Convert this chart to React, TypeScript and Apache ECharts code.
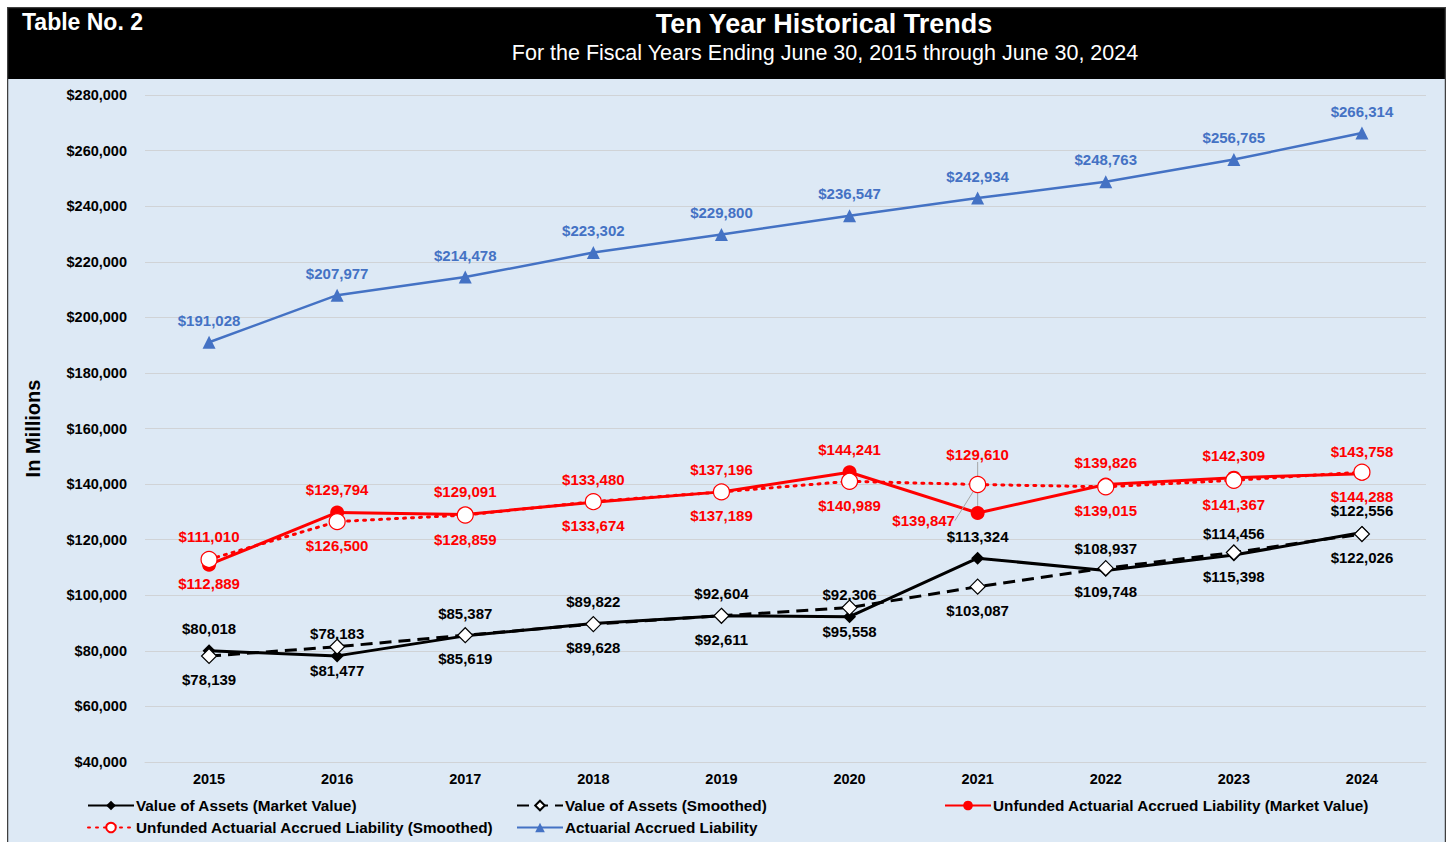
import React, { useEffect, useRef } from "react";
import * as echarts from "echarts";

const years = ["2015", "2016", "2017", "2018", "2019", "2020", "2021", "2022", "2023", "2024"];
const assetsMarket = [80018, 78183, 85387, 89822, 92604, 92306, 113324, 108937, 114456, 122556];
const assetsSmoothed = [78139, 81477, 85619, 89628, 92611, 95558, 103087, 109748, 115398, 122026];
const uaalMarket = [111010, 129794, 129091, 133480, 137196, 144241, 129610, 139826, 142309, 143758];
const uaalSmoothed = [112889, 126500, 128859, 133674, 137189, 140989, 139847, 139015, 141367, 144288];
const aal = [191028, 207977, 214478, 223302, 229800, 236547, 242934, 248763, 256765, 266314];

const names = [
  "Value of Assets (Market Value)",
  "Value of Assets (Smoothed)",
  "Unfunded Actuarial Accrued Liability (Market Value)",
  "Unfunded Actuarial Accrued Liability (Smoothed)",
  "Actuarial Accrued Liability",
];

const FONT = "'Liberation Sans', Arial, sans-serif";
const money = (v: number) => "$" + v.toLocaleString("en-US");

export default function App() {
  const ref = useRef<HTMLDivElement>(null);
  useEffect(() => {
    if (!ref.current) return;
    const chart = echarts.init(ref.current, null, { renderer: "svg" });
    const lbl = (color: string, position: string) => ({
      show: true,
      position,
      distance: 8,
      color,
      fontFamily: FONT,
      fontWeight: "bold",
      fontSize: 15,
      formatter: (p: any) => money(p.value),
    });
    const legendText = { fontFamily: FONT, fontWeight: "bold", fontSize: 15.3, color: "#000" };
    const mkLegend = (name: string, left: number, top: number) => ({
      data: [name],
      left,
      top,
      itemWidth: 46,
      itemHeight: 12,
      itemGap: 5,
      textStyle: { ...legendText, padding: [0, 0, 0, -3] },
    });
    const withLine = (arr: number[], idx: number) =>
      arr.map((v, i) =>
        i === idx ? { value: v, labelLine: { show: true, lineStyle: { color: "#a6a6a6", width: 1 } } } : v
      );
    chart.setOption({
      animation: false,
      backgroundColor: "#dde9f5",
      textStyle: { fontFamily: FONT },
      graphic: [
        { type: "rect", shape: { x: 0, y: 0, width: 1439, height: 72 }, style: { fill: "#000" }, z: 10 },
        {
          type: "rect",
          shape: { x: 0.5, y: 0.5, width: 1438, height: 840 },
          style: { fill: "none", stroke: "#404040", lineWidth: 1.5 },
          z: 11,
        },
        {
          type: "text",
          x: 15,
          y: 15,
          style: { text: "Table No. 2", fill: "#fff", font: `bold 23px ${FONT}`, verticalAlign: "middle" },
          z: 12,
        },
        {
          type: "text",
          x: 817,
          y: 17,
          style: {
            text: "Ten Year Historical Trends",
            fill: "#fff",
            font: `bold 27px ${FONT}`,
            align: "center",
            verticalAlign: "middle",
          },
          z: 12,
        },
        {
          type: "text",
          x: 818,
          y: 46,
          style: {
            text: "For the Fiscal Years Ending June 30, 2015 through June 30, 2024",
            fill: "#fff",
            font: `21.5px ${FONT}`,
            align: "center",
            verticalAlign: "middle",
          },
          z: 12,
        },
      ],
      legend: [
        mkLegend(names[0], 75, 786),
        mkLegend(names[1], 504, 786),
        mkLegend(names[2], 932, 786),
        mkLegend(names[3], 75, 808),
        mkLegend(names[4], 504, 808),
      ],
      grid: { left: 138, right: 20, top: 88, bottom: 80 },
      xAxis: {
        type: "category",
        data: years,
        boundaryGap: true,
        axisLine: { show: true, lineStyle: { color: "#d0d3d6" } },
        axisTick: { show: false },
        axisLabel: { color: "#000", fontFamily: FONT, fontWeight: "bold", fontSize: 14.5, margin: 9 },
      },
      yAxis: {
        type: "value",
        min: 40000,
        max: 280000,
        interval: 20000,
        name: "In Millions",
        nameLocation: "middle",
        nameGap: 102,
        nameTextStyle: { color: "#000", fontFamily: FONT, fontWeight: "bold", fontSize: 20 },
        axisLine: { show: false },
        axisTick: { show: false },
        splitLine: { lineStyle: { color: "#d0d3d6", width: 1 } },
        axisLabel: {
          color: "#000",
          fontFamily: FONT,
          fontWeight: "bold",
          fontSize: 14.5,
          margin: 18,
          formatter: (v: number) => money(v),
        },
      },
      series: [
        {
          name: names[0],
          type: "line",
          data: assetsMarket,
          symbol: "diamond",
          symbolSize: 13,
          itemStyle: { color: "#000" },
          lineStyle: { color: "#000", width: 3 },
          label: lbl("#000", "top"),
          z: 2,
        },
        {
          name: names[1],
          type: "line",
          data: assetsSmoothed,
          symbol: "diamond",
          symbolSize: 15,
          showAllSymbol: true,
          itemStyle: { color: "#fff", borderColor: "#000", borderWidth: 1.2 },
          lineStyle: { color: "#000", width: 3, type: [12, 7] },
          label: lbl("#000", "bottom"),
          z: 3,
        },
        {
          name: names[2],
          type: "line",
          data: withLine(uaalMarket, 6),
          symbol: "circle",
          symbolSize: 14,
          itemStyle: { color: "#ff0000" },
          lineStyle: { color: "#ff0000", width: 3 },
          label: lbl("#ff0000", "top"),
          labelLayout: (p: any) =>
            p.dataIndex === 6 ? { dy: -36 } : p.dataIndex === 0 ? { dy: -6 } : {},
          z: 4,
        },
        {
          name: names[3],
          type: "line",
          data: withLine(uaalSmoothed, 6),
          symbol: "circle",
          symbolSize: 16,
          itemStyle: { color: "#fff", borderColor: "#ff0000", borderWidth: 1.2 },
          lineStyle: { color: "#ff0000", width: 3, type: [2, 6], cap: "round" },
          label: lbl("#ff0000", "bottom"),
          labelLayout: (p: any) => (p.dataIndex === 6 ? { dx: -54, dy: 12 } : {}),
          z: 5,
        },
        {
          name: names[4],
          type: "line",
          data: aal,
          symbol: "triangle",
          symbolSize: 13,
          itemStyle: { color: "#4472c4" },
          lineStyle: { color: "#4472c4", width: 2.5 },
          label: lbl("#4472c4", "top"),
          z: 6,
        },
      ],
    });
    return () => chart.dispose();
  }, []);
  return (
    <div
      ref={ref}
      style={{ position: "absolute", left: 7, top: 7, width: 1439, height: 835 }}
    />
  );
}
